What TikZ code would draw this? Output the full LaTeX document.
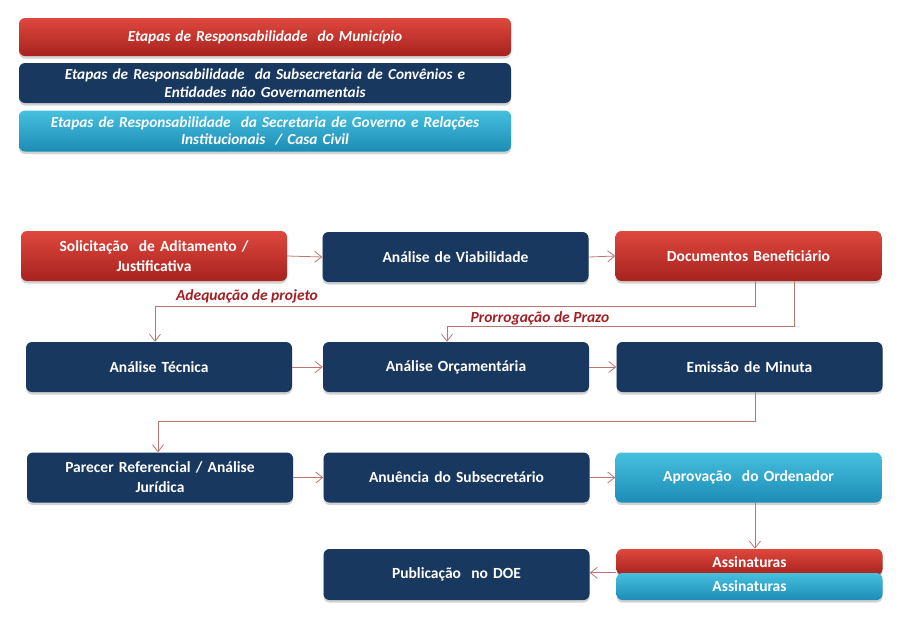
\documentclass[tikz,border=0pt]{standalone}
\usepackage{fontspec}
\setmainfont{Carlito}
\usetikzlibrary{arrows.meta, positioning, shadows}

\definecolor{muniTop}{RGB}{222,72,62}
\definecolor{muniBot}{RGB}{168,34,30}
\definecolor{subsBlue}{RGB}{24,56,96}
\definecolor{govTop}{RGB}{70,192,222}
\definecolor{govBot}{RGB}{28,140,182}
\definecolor{flowline}{RGB}{188,118,114}
\definecolor{noteRed}{RGB}{162,32,36}

\begin{document}
\begin{tikzpicture}[x=1pt, y=-1pt,
        stage/.style={rounded corners=6pt, minimum width=266pt, minimum height=50pt,
          text width=258pt, align=center, text=white,
          font=\bfseries\fontsize{15.5}{20}\selectfont,
          drop shadow={shadow xshift=0pt, shadow yshift=-2.5pt, opacity=0.25, fill=black!70}},
        muni/.style={stage, top color=muniTop, bottom color=muniBot},
        subs/.style={stage, fill=subsBlue},
        gov/.style={stage, top color=govTop, bottom color=govBot},
        legend/.style={minimum width=492pt, text width=484pt,
          font=\bfseries\itshape\fontsize{15.3}{17.5}\selectfont},
        flow/.style={draw=flowline, line width=0.8pt, -{Straight Barb[length=7pt, width=11pt]}},
        note/.style={text=noteRed, font=\bfseries\itshape\fontsize{15.5}{18}\selectfont}]

        \useasboundingbox (0,0) rectangle (902,635);

% Legend
        \node[muni, legend, minimum height=38pt] (legM) at (265,37)
          {Etapas de Responsabilidade\ \ do Município};
        \node[subs, legend, minimum height=40pt] (legS) at (265,83)
          {Etapas de Responsabilidade\ \ da Subsecretaria de Convênios e\\Entidades não Governamentais};
        \node[gov, legend, minimum height=41pt] (legG) at (265,131)
          {Etapas de Responsabilidade\ \ da Secretaria de Governo e Relações\\Institucionais\ \ / Casa Civil};

% Stages
        \node[muni] (sol) at (154,256) {Solicitação\ \ de Aditamento /\\Justificativa};
        \node[subs] (via) at (455.5,257) {Análise de Viabilidade};
        \node[muni] (doc) at (748.5,256) {Documentos Beneficiário};

        \node[subs] (tec) at (159,367) {Análise Técnica};
        \node[subs] (orc) at (456,367) {Análise Orçamentária};
        \node[subs] (emi) at (749.5,367) {Emissão de Minuta};

        \node[subs] (par) at (160,477.5) {Parecer Referencial / Análise\\Jurídica};
        \node[subs] (anu) at (456.5,477.5) {Anuência do Subsecretário};
        \node[gov] (apr) at (748.5,477.5) {Aprovação\ \ do Ordenador};

        \node[subs, minimum height=51pt] (pub) at (456.5,574.5) {Publicação\ \ no DOE};
        \node[muni, minimum height=26pt] (assR) at (749.5,562) {Assinaturas};
        \node[gov, minimum height=27pt] (assC) at (749.5,586.5) {Assinaturas};

% Arrows
        \foreach \a/\b in {sol/via, via/doc, tec/orc, orc/emi, par/anu, anu/apr} {
          \draw[flow] (\a.east) -- (\b.west);
        }
        \draw[flow] ([xshift=6.5pt]doc.south) -- ++(0,25) -| ([xshift=-4pt]tec.north);
        \draw[flow] ([xshift=45.5pt]doc.south) -- ++(0,45) -| ([xshift=-9pt]orc.north);
        \draw[flow] ([xshift=5.5pt]emi.south) -- ++(0,29) -| ([xshift=-2pt]par.north);
        \draw[flow] ([xshift=6.5pt]apr.south) -- ([xshift=6.5pt]apr.south |- assR.north);
        \draw[flow] (assC.north west) -- (assC.north west -| pub.east);

% Returns
        \node[note] (adq) at (247,296) {Adequação de projeto};
        \node[note] (prz) at (540,318) {Prorrogação de Prazo};

      \end{tikzpicture}
\end{document}
